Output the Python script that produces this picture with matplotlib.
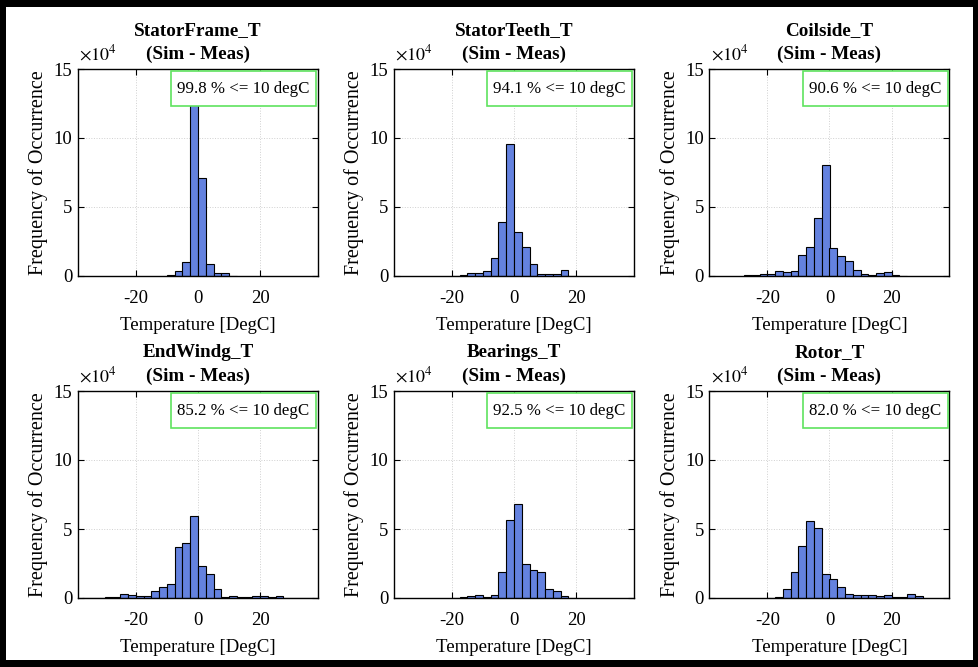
import matplotlib
matplotlib.use('Agg')
import matplotlib.pyplot as plt
from matplotlib.patches import Rectangle

plt.rcParams['font.family'] = ['Liberation Serif', 'DejaVu Serif']
plt.rcParams['mathtext.fontset'] = 'stix'

# histogram data, counts in units of 1e4, bins of 2.5 degC
bin_width = 2.5
titles = ['StatorFrame_T', 'StatorTeeth_T', 'Coilside_T',
          'EndWindg_T', 'Bearings_T', 'Rotor_T']
pct_labels = ['99.8', '94.1', '90.6', '85.2', '92.5', '82.0']

# first bin edge of each panel
first_edge = [-10.0, -20.0, -27.5, -37.5, -20.0, -20.0]

stator_frame = [0.05, 0.39, 1.01, 12.84, 7.13, 0.87, 0.24, 0.19, 0.02]
stator_teeth = [0.03, 0.07, 0.24, 0.19, 0.36, 1.32, 3.92, 9.59, 3.17, 2.12,
                0.89, 0.14, 0.17, 0.12, 0.46, 0.02]
coilside = [0.05, 0.07, 0.12, 0.17, 0.36, 0.29, 0.34, 1.55, 2.10, 4.23, 8.02,
            2.00, 1.43, 1.06, 0.41, 0.12, 0.07, 0.19, 0.29, 0.07, 0.02]
end_windg = [0.02, 0.02, 0.02, 0.10, 0.05, 0.26, 0.24, 0.17, 0.17, 0.53, 0.79,
             0.99, 3.70, 3.97, 5.96, 2.33, 1.75, 0.65, 0.10, 0.12, 0.10, 0.10,
             0.17, 0.17, 0.10, 0.17, 0.02, 0.02, 0.02, 0.02]
bearings = [0.02, 0.05, 0.12, 0.22, 0.10, 0.24, 1.92, 5.67, 6.80, 2.45, 2.02,
            1.92, 0.67, 0.53, 0.12, 0.02]
rotor = [0.03, 0.07, 0.67, 1.88, 3.77, 5.55, 5.07, 1.71, 1.39, 0.79, 0.31,
         0.19, 0.22, 0.22, 0.17, 0.24, 0.05, 0.10, 0.29, 0.17]
counts = [stator_frame, stator_teeth, coilside, end_windg, bearings, rotor]

W, H = 979, 667
fig = plt.figure(figsize=(W / 100, H / 100), dpi=100)
fig.patch.set_facecolor('black')
fig.add_artist(Rectangle((6 / W, 1 - 660 / H), 967 / W, 653 / H,
                         transform=fig.transFigure, facecolor='white',
                         edgecolor='none', zorder=-10))

col_left = [78, 394, 709.5]
row_bottom = [276, 598]
aw, ah = 240, 207

bar_color = '#6482df'
box_color = '#5fe35f'

for i in range(6):
    r, c = divmod(i, 3)
    ax = fig.add_axes([col_left[c] / W, 1 - row_bottom[r] / H, aw / W, ah / H])
    ax.set_axisbelow(True)
    vals = [v * 1e4 for v in counts[i]]
    lefts = [first_edge[i] + k * bin_width for k in range(len(vals))]
    ax.bar(lefts, vals, width=bin_width, align='edge', color=bar_color,
           edgecolor='black', linewidth=0.8)

    ax.set_xlim(-38.7, 38.7)
    ax.set_ylim(0, 15e4)
    ax.set_xticks([-20, 0, 20])
    ax.set_xticklabels(['-20', '0', '20'])
    ax.set_yticks([0, 5e4, 10e4, 15e4])
    ax.set_yticklabels(['0', '5', '10', '15'])
    ax.tick_params(direction='in', top=True, right=True, length=4,
                   width=0.8, labelsize=13.5)
    ax.tick_params(axis='x', pad=10)
    ax.tick_params(axis='y', pad=4)
    ax.grid(True, linestyle=':', color='#d0d0d0', linewidth=0.7)
    for s in ax.spines.values():
        s.set_linewidth(1.0)

    ax.set_title(titles[i] + '\n(Sim - Meas)', fontsize=13.8, fontweight='bold',
                 linespacing=1.5, pad=7)
    ax.set_xlabel('Temperature [DegC]', fontsize=13.5, labelpad=7)
    ax.set_ylabel('Frequency of Occurrence', fontsize=14.5, labelpad=4)
    ax.text(0.005, 1.025, r'$\times10^{4}$', transform=ax.transAxes,
            ha='left', va='bottom', fontsize=13)

    ax.add_patch(Rectangle((0.388, 0.82), 0.604, 0.172, transform=ax.transAxes,
                           facecolor='white', edgecolor=box_color,
                           linewidth=1.2, zorder=5))
    ax.text(0.69, 0.905, pct_labels[i] + ' % <= 10 degC', transform=ax.transAxes,
            ha='center', va='center', fontsize=12.2, zorder=6)

fig.savefig('out.png', dpi=100, facecolor=fig.get_facecolor())
